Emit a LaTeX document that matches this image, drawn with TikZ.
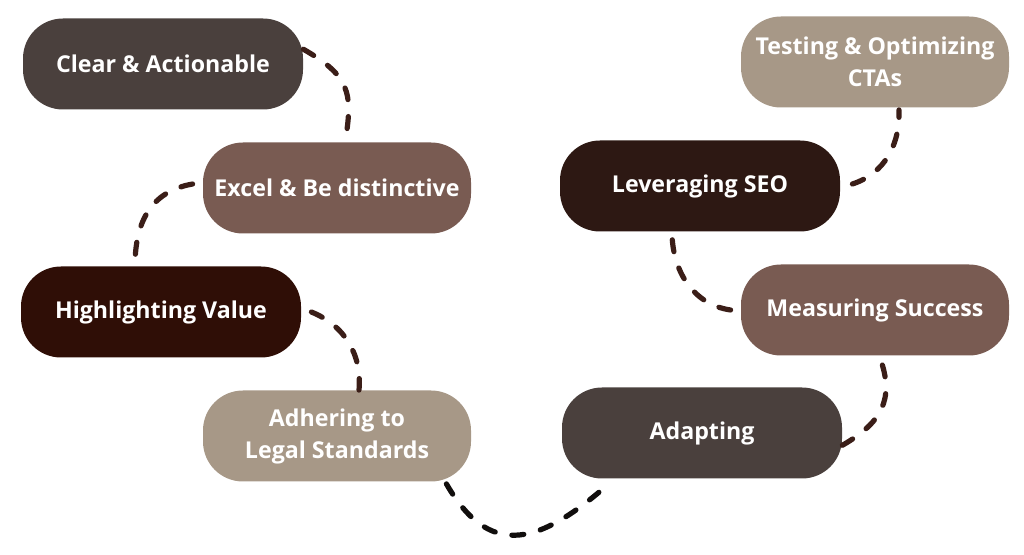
\documentclass[tikz,border=0pt]{standalone}
\usepackage{fontspec}
\setmainfont{Open Sans}
\usepackage{xcolor}
\usepackage{tikz}
\usetikzlibrary{positioning}
\definecolor{darkTaupe}{RGB}{74,64,61}
\definecolor{mochaBrown}{RGB}{121,91,82}
\definecolor{espresso}{RGB}{47,14,6}
\definecolor{darkRoast}{RGB}{45,24,19}
\definecolor{sandBeige}{RGB}{167,152,135}
\definecolor{dashBrown}{RGB}{59,30,24}
\definecolor{dashBlack}{RGB}{17,14,13}

\begin{document}
\begin{tikzpicture}[x=0.5pt,y=-0.5pt,
    pill/.style={rounded corners=20pt,minimum height=45.5pt,inner sep=0pt,
      text=white,align=center,font=\bfseries\fontsize{11.6}{16}\selectfont},
    widepill/.style={pill,minimum width=140pt},
    narrowpill/.style={pill,minimum width=134pt},
    link/.style={dashBrown,line width=2.6pt,line cap=round,
      dash pattern=on 6pt off 8.5pt}]
  \useasboundingbox (0,0) rectangle (1024,555);
  % Left column
  \node[widepill,fill=darkTaupe] (clear) at (163,64) {Clear \& Actionable};
  \node[narrowpill,fill=mochaBrown] (excel) at (337,188) {Excel \& Be distinctive};
  \node[widepill,fill=espresso] (value) at (161,312) {Highlighting Value};
  \node[narrowpill,fill=sandBeige] (legal) at (337,436) {Adhering to\\Legal Standards};
  % Right column
  \node[widepill,fill=darkTaupe] (adapt) at (702,433) {Adapting};
  \node[narrowpill,fill=mochaBrown] (measure) at (875,310) {Measuring Success};
  \node[widepill,fill=darkRoast] (seo) at (700,186) {Leveraging SEO};
  \node[narrowpill,fill=sandBeige] (cta) at (875,62) {Testing \& Optimizing\\CTAs};
  % Dashed links
  \draw[link] (clear.6) to[out=-30,in=80,looseness=1.3] ([xshift=4pt]excel.north);
  \draw[link] ([xshift=-5pt,yshift=2pt]excel.west) to[out=190,in=90,looseness=1.1] ([xshift=-13pt]value.north);
  \draw[link] ([xshift=5pt]value.east) to[out=-22,in=85] ([xshift=11pt]legal.north);
  \draw[link,dashBlack] ([xshift=-12.5pt,yshift=-1pt]legal.south east)
    to[out=-60,in=-140,looseness=1.4] ([xshift=19.5pt,yshift=-6pt]adapt.south west);
  \draw[link] (adapt.-5) to[out=30,in=-70,looseness=1.2] ([xshift=2.5pt,yshift=-1pt]measure.south);
  \draw[link] ([xshift=-5pt]measure.west) to[out=172,in=-90] ([xshift=-14pt]seo.south);
  \draw[link] ([xshift=6pt,yshift=1pt]seo.east) to[out=18,in=-88] ([xshift=12pt,yshift=-1pt]cta.south);
\end{tikzpicture}
\end{document}
